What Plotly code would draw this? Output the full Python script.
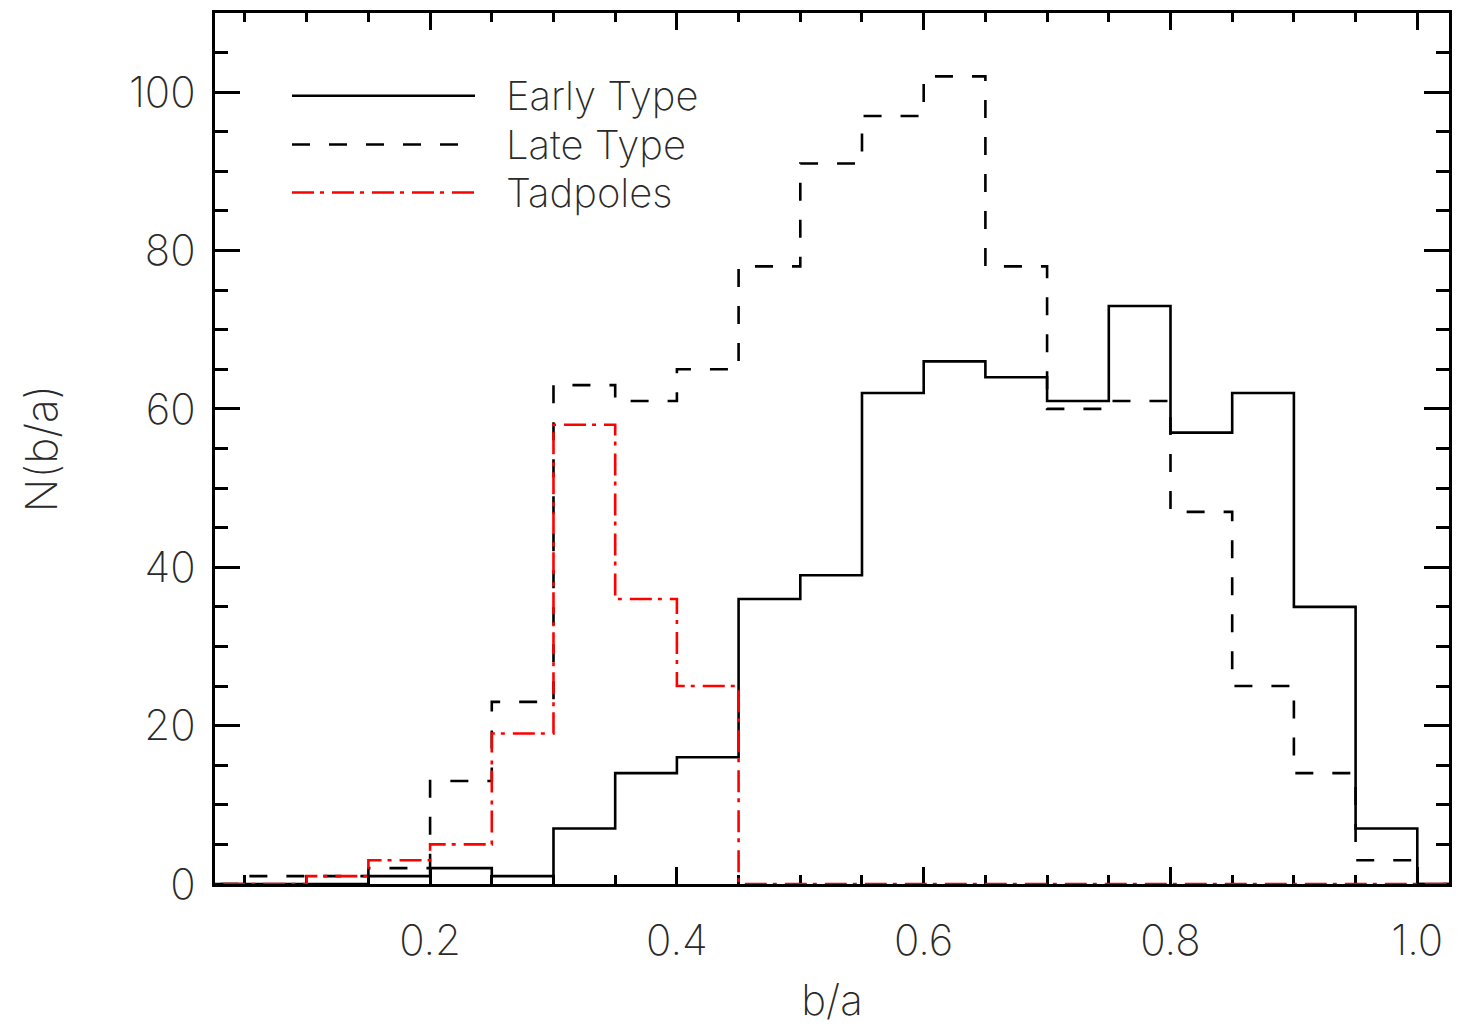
import plotly.graph_objects as go

# Bin left edges of b/a histogram (bin width 0.05)
bin_lo = [0.00, 0.05, 0.10, 0.15, 0.20, 0.25, 0.30, 0.35, 0.40, 0.45, 0.50,
          0.55, 0.60, 0.65, 0.70, 0.75, 0.80, 0.85, 0.90, 0.95, 1.00]
bin_end = 1.05

early_type = [0, 0, 0, 1, 2, 1, 7, 14, 16, 36, 39, 62, 66, 64, 61, 73, 57, 62, 35, 7, 0]
late_type = [0, 1, 1, 2, 13, 23, 63, 61, 65, 78, 91, 97, 102, 78, 60, 61, 47, 25, 14, 3, 0]
tadpoles = [0, 0, 1, 3, 5, 19, 58, 36, 25, 0, 0, 0, 0, 0, 0, 0, 0, 0, 0, 0, 0]

series_names = ["Early Type", "Late Type", "Tadpoles"]
x_tick_vals = [0.2, 0.4, 0.6, 0.8, 1.0]
x_tick_text = ["0.2", "0.4", "0.6", "0.8", "1.0"]
y_tick_vals = [0, 20, 40, 60, 80, 100]

FONT = "Inter"
TXT = "#2a2a2a"

styles = [
    dict(color="black", width=2.6, dash="solid"),
    dict(color="black", width=2.6, dash="18px,19px"),
    dict(color="red", width=2.6, dash="22px,6px,4px,8px"),
]

fig = go.Figure()
for name, vals, st in zip(series_names, [early_type, late_type, tadpoles], styles):
    xs = list(bin_lo) + [bin_end]
    ys = list(vals) + [vals[-1]]
    fig.add_trace(go.Scatter(x=xs, y=ys, mode="lines", line_shape="hv",
                             line=st, name=name, showlegend=False,
                             hoverinfo="skip"))

# Manual legend (long line samples like the original)
leg_y = [0.905, 0.849, 0.794]
for name, st, yy in zip(series_names, styles, leg_y):
    fig.add_shape(type="line", xref="paper", yref="paper",
                  x0=0.0624, x1=0.2107, y0=yy, y1=yy,
                  line=dict(color=st["color"], width=2.6, dash=st["dash"]))
    fig.add_annotation(xref="paper", yref="paper", x=0.234, y=yy,
                       text=name, showarrow=False, xanchor="left", yanchor="middle",
                       font=dict(family=FONT, size=40, color=TXT, weight=200))

axis_common = dict(showgrid=False, zeroline=False, showline=True,
                   linecolor="black", linewidth=3, mirror="ticks",
                   ticks="inside", tickcolor="black", tickwidth=2.5,
                   tickfont=dict(family=FONT, size=42, color=TXT, weight=200),
                   layer="below traces")

fig.update_xaxes(**axis_common, range=[0.0257, 1.0257],
                 tickvals=x_tick_vals, ticktext=x_tick_text, ticklen=17,
                 ticklabelstandoff=18,
                 minor=dict(ticks="inside", dtick=0.05, tick0=0.0, ticklen=9,
                            tickwidth=2.5, tickcolor="black"),
                 title=dict(text="b/a", standoff=22,
                            font=dict(family=FONT, size=42, color=TXT, weight=200)))
fig.update_yaxes(**axis_common, range=[0, 110],
                 tickvals=y_tick_vals, ticklen=25, ticklabelstandoff=8,
                 minor=dict(ticks="inside", dtick=5, tick0=0, ticklen=13,
                            tickwidth=2.5, tickcolor="black"),
                 title=dict(text="N(b/a)", standoff=58,
                            font=dict(family=FONT, size=44, color=TXT, weight=200)))

# The page body adds an 8px offset, so the figure is 8px smaller and shifted.
fig.update_layout(width=1453, height=1025,
                  margin=dict(l=207, r=12, t=2, b=149),
                  paper_bgcolor="white", plot_bgcolor="white",
                  showlegend=False)

fig.write_html("out.html")
